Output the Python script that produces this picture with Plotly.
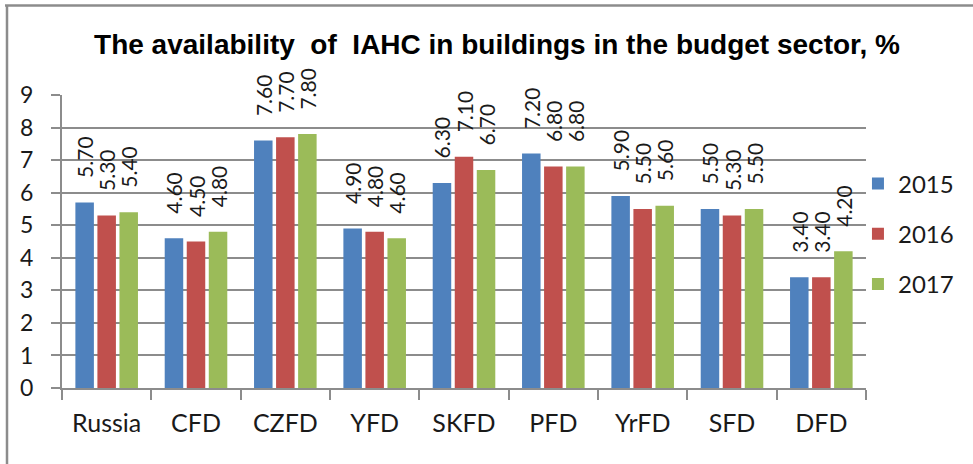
import plotly.graph_objects as go

categories = ["Russia", "CFD", "CZFD", "YFD", "SKFD", "PFD", "YrFD", "SFD", "DFD"]
years = ["2015", "2016", "2017"]
values_2015 = [5.70, 4.60, 7.60, 4.90, 6.30, 7.20, 5.90, 5.50, 3.40]
values_2016 = [5.30, 4.50, 7.70, 4.80, 7.10, 6.80, 5.50, 5.30, 3.40]
values_2017 = [5.40, 4.80, 7.80, 4.60, 6.70, 6.80, 5.60, 5.50, 4.20]
series = [values_2015, values_2016, values_2017]
colors = ["#4F81BD", "#C0504D", "#9BBB59"]
y_ticks = list(range(0, 10))

FONT = "Lato, Carlito, Calibri, sans-serif"
GRID = "#8c8c8c"
PAD = "\u00a0" * 4  # leading padding so labels float above the bars like Excel

fig = go.Figure()
for name, vals, col in zip(years, series, colors):
    fig.add_trace(go.Bar(
        x=categories, y=vals, name=name, marker_color=col,
        marker_line_width=0,
        text=[PAD + f"{v:.2f}" for v in vals], textposition="outside",
        textangle=-90, cliponaxis=False, constraintext="none",
        textfont=dict(family=FONT, size=21, color="#1a1a1a"),
        showlegend=False,
    ))
# legend entries with square swatches
for name, col in zip(years, colors):
    fig.add_trace(go.Scatter(
        x=[None], y=[None], mode="markers", name=name,
        marker=dict(symbol="square", size=17, color=col),
        legendgroup=name, showlegend=True,
    ))

L, R, T, B = 62, 107, 95, 76
W, H = 973, 464
pw, ph = W - L - R, H - T - B

def px_x(x):
    return (x - L) / pw

def px_y(y):
    return (H - B - y) / ph

fig.update_layout(
    width=W, height=H,
    margin=dict(l=L, r=R, t=T, b=B),
    paper_bgcolor="white", plot_bgcolor="white",
    barmode="group", bargap=0.26, bargroupgap=0.16,
    title=dict(
        text="<b>The availability  of  IAHC in buildings in the budget sector, %</b>",
        x=497 / W, xanchor="center", y=1 - 44 / H, yanchor="middle",
        font=dict(family="Liberation Sans, Arial, sans-serif", size=28, color="black"),
    ),
    legend=dict(
        x=0.99, xanchor="left", y=px_y(234), yanchor="middle",
        font=dict(family=FONT, size=24, color="#1a1a1a"),
        tracegroupgap=16, traceorder="grouped",
        itemsizing="constant", bgcolor="rgba(0,0,0,0)",
    ),
    xaxis=dict(
        showgrid=False, showline=True, linecolor=GRID, linewidth=2,
        ticks="outside", tickson="boundaries", ticklen=10, tickcolor=GRID, tickwidth=2,
        tickfont=dict(family=FONT, size=25, color="#1a1a1a"),
        ticklabelstandoff=12,
    ),
    yaxis=dict(
        range=[0, 9], tickvals=y_ticks, showgrid=True, gridcolor=GRID, gridwidth=1.5,
        showline=True, linecolor=GRID, linewidth=2,
        ticks="outside", ticklen=9, tickcolor=GRID, tickwidth=2,
        tickfont=dict(family=FONT, size=23, color="#1a1a1a"),
        ticklabelstandoff=13, zeroline=False,
    ),
    shapes=[
        dict(type="line", xref="paper", yref="paper", x0=px_x(5), x1=px_x(W + 5),
             y0=px_y(5.5), y1=px_y(5.5), line=dict(color="#8c8c8c", width=2.5)),
        dict(type="line", xref="paper", yref="paper", x0=px_x(7), x1=px_x(7),
             y0=px_y(5.5), y1=px_y(H + 5), line=dict(color="#8c8c8c", width=2.5)),
    ],
)

fig.write_html(
    "out.html",
    config={"displayModeBar": False},
    post_script="document.body.style.margin='0';document.body.style.overflow='hidden';",
)
